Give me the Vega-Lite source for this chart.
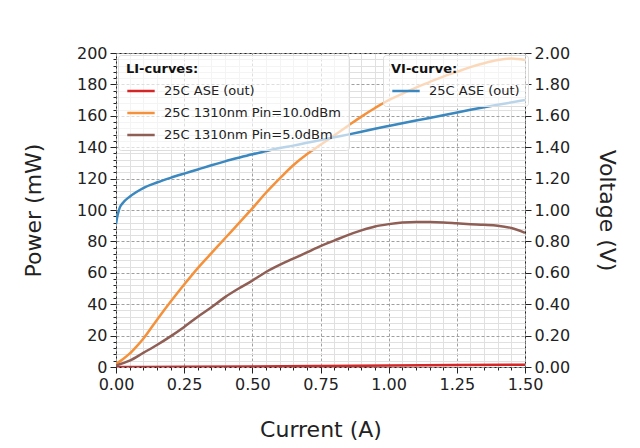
{
  "$schema": "https://vega.github.io/schema/vega-lite/v6.json",
  "description": "LI and VI curves of an amplifier: output power and voltage versus current.",
  "width": 409,
  "height": 314,
  "autosize": "none",
  "padding": {"left": 116, "top": 53, "right": 115, "bottom": 81},
  "background": "white",
  "config": {
    "font": "DejaVu Sans",
    "view": {"stroke": "#222", "strokeWidth": 1},
    "axis": {"labelFont": "DejaVu Sans", "titleFont": "DejaVu Sans", "labelColor": "#222", "titleColor": "#222", "tickColor": "#222", "titleFontWeight": "normal"},
    "legend": {"labelFont": "DejaVu Sans", "titleFont": "DejaVu Sans"}
  },
  "datasets": {
    "li": [
      {"I": 0, "P": 0, "s": "25C ASE (out)"},
      {"I": 0.1, "P": 0.05, "s": "25C ASE (out)"},
      {"I": 0.25, "P": 0.15, "s": "25C ASE (out)"},
      {"I": 0.5, "P": 0.35, "s": "25C ASE (out)"},
      {"I": 0.75, "P": 0.6, "s": "25C ASE (out)"},
      {"I": 1.0, "P": 0.9, "s": "25C ASE (out)"},
      {"I": 1.25, "P": 1.2, "s": "25C ASE (out)"},
      {"I": 1.5, "P": 1.5, "s": "25C ASE (out)"},
      {"I": 0, "P": 2, "s": "25C 1310nm Pin=10.0dBm"},
      {"I": 0.025, "P": 5, "s": "25C 1310nm Pin=10.0dBm"},
      {"I": 0.05, "P": 8.5, "s": "25C 1310nm Pin=10.0dBm"},
      {"I": 0.075, "P": 13, "s": "25C 1310nm Pin=10.0dBm"},
      {"I": 0.1, "P": 18, "s": "25C 1310nm Pin=10.0dBm"},
      {"I": 0.15, "P": 30, "s": "25C 1310nm Pin=10.0dBm"},
      {"I": 0.2, "P": 41.5, "s": "25C 1310nm Pin=10.0dBm"},
      {"I": 0.25, "P": 52.5, "s": "25C 1310nm Pin=10.0dBm"},
      {"I": 0.3, "P": 63, "s": "25C 1310nm Pin=10.0dBm"},
      {"I": 0.35, "P": 72.5, "s": "25C 1310nm Pin=10.0dBm"},
      {"I": 0.4, "P": 82, "s": "25C 1310nm Pin=10.0dBm"},
      {"I": 0.45, "P": 91.5, "s": "25C 1310nm Pin=10.0dBm"},
      {"I": 0.5, "P": 101, "s": "25C 1310nm Pin=10.0dBm"},
      {"I": 0.55, "P": 111, "s": "25C 1310nm Pin=10.0dBm"},
      {"I": 0.6, "P": 120, "s": "25C 1310nm Pin=10.0dBm"},
      {"I": 0.65, "P": 128.5, "s": "25C 1310nm Pin=10.0dBm"},
      {"I": 0.7, "P": 135.5, "s": "25C 1310nm Pin=10.0dBm"},
      {"I": 0.75, "P": 141.5, "s": "25C 1310nm Pin=10.0dBm"},
      {"I": 0.8, "P": 147.5, "s": "25C 1310nm Pin=10.0dBm"},
      {"I": 0.85, "P": 153.5, "s": "25C 1310nm Pin=10.0dBm"},
      {"I": 0.9, "P": 159.5, "s": "25C 1310nm Pin=10.0dBm"},
      {"I": 0.95, "P": 165, "s": "25C 1310nm Pin=10.0dBm"},
      {"I": 1.0, "P": 170, "s": "25C 1310nm Pin=10.0dBm"},
      {"I": 1.05, "P": 174, "s": "25C 1310nm Pin=10.0dBm"},
      {"I": 1.1, "P": 178, "s": "25C 1310nm Pin=10.0dBm"},
      {"I": 1.15, "P": 181.5, "s": "25C 1310nm Pin=10.0dBm"},
      {"I": 1.2, "P": 185, "s": "25C 1310nm Pin=10.0dBm"},
      {"I": 1.25, "P": 188, "s": "25C 1310nm Pin=10.0dBm"},
      {"I": 1.3, "P": 191, "s": "25C 1310nm Pin=10.0dBm"},
      {"I": 1.35, "P": 193.5, "s": "25C 1310nm Pin=10.0dBm"},
      {"I": 1.4, "P": 195.5, "s": "25C 1310nm Pin=10.0dBm"},
      {"I": 1.45, "P": 196.5, "s": "25C 1310nm Pin=10.0dBm"},
      {"I": 1.5, "P": 195.5, "s": "25C 1310nm Pin=10.0dBm"},
      {"I": 0, "P": 1, "s": "25C 1310nm Pin=5.0dBm"},
      {"I": 0.05, "P": 4, "s": "25C 1310nm Pin=5.0dBm"},
      {"I": 0.1, "P": 9, "s": "25C 1310nm Pin=5.0dBm"},
      {"I": 0.15, "P": 14, "s": "25C 1310nm Pin=5.0dBm"},
      {"I": 0.2, "P": 19.5, "s": "25C 1310nm Pin=5.0dBm"},
      {"I": 0.25, "P": 25.5, "s": "25C 1310nm Pin=5.0dBm"},
      {"I": 0.3, "P": 32, "s": "25C 1310nm Pin=5.0dBm"},
      {"I": 0.35, "P": 38, "s": "25C 1310nm Pin=5.0dBm"},
      {"I": 0.4, "P": 44.5, "s": "25C 1310nm Pin=5.0dBm"},
      {"I": 0.45, "P": 50, "s": "25C 1310nm Pin=5.0dBm"},
      {"I": 0.5, "P": 55, "s": "25C 1310nm Pin=5.0dBm"},
      {"I": 0.55, "P": 60.5, "s": "25C 1310nm Pin=5.0dBm"},
      {"I": 0.6, "P": 65, "s": "25C 1310nm Pin=5.0dBm"},
      {"I": 0.65, "P": 69, "s": "25C 1310nm Pin=5.0dBm"},
      {"I": 0.7, "P": 73, "s": "25C 1310nm Pin=5.0dBm"},
      {"I": 0.75, "P": 77, "s": "25C 1310nm Pin=5.0dBm"},
      {"I": 0.8, "P": 80.5, "s": "25C 1310nm Pin=5.0dBm"},
      {"I": 0.85, "P": 84, "s": "25C 1310nm Pin=5.0dBm"},
      {"I": 0.9, "P": 87, "s": "25C 1310nm Pin=5.0dBm"},
      {"I": 0.95, "P": 89.5, "s": "25C 1310nm Pin=5.0dBm"},
      {"I": 1.0, "P": 91, "s": "25C 1310nm Pin=5.0dBm"},
      {"I": 1.05, "P": 92, "s": "25C 1310nm Pin=5.0dBm"},
      {"I": 1.1, "P": 92.4, "s": "25C 1310nm Pin=5.0dBm"},
      {"I": 1.15, "P": 92.3, "s": "25C 1310nm Pin=5.0dBm"},
      {"I": 1.2, "P": 92, "s": "25C 1310nm Pin=5.0dBm"},
      {"I": 1.25, "P": 91.5, "s": "25C 1310nm Pin=5.0dBm"},
      {"I": 1.3, "P": 91, "s": "25C 1310nm Pin=5.0dBm"},
      {"I": 1.35, "P": 90.6, "s": "25C 1310nm Pin=5.0dBm"},
      {"I": 1.4, "P": 90, "s": "25C 1310nm Pin=5.0dBm"},
      {"I": 1.45, "P": 88.5, "s": "25C 1310nm Pin=5.0dBm"},
      {"I": 1.5, "P": 85.5, "s": "25C 1310nm Pin=5.0dBm"}
    ],
    "vi": [
      {"I": 0, "V": 0.91, "s": "25C ASE (out)"},
      {"I": 0.005, "V": 0.96, "s": "25C ASE (out)"},
      {"I": 0.01, "V": 0.995, "s": "25C ASE (out)"},
      {"I": 0.015, "V": 1.02, "s": "25C ASE (out)"},
      {"I": 0.025, "V": 1.045, "s": "25C ASE (out)"},
      {"I": 0.05, "V": 1.085, "s": "25C ASE (out)"},
      {"I": 0.075, "V": 1.115, "s": "25C ASE (out)"},
      {"I": 0.1, "V": 1.14, "s": "25C ASE (out)"},
      {"I": 0.15, "V": 1.175, "s": "25C ASE (out)"},
      {"I": 0.2, "V": 1.205, "s": "25C ASE (out)"},
      {"I": 0.25, "V": 1.232, "s": "25C ASE (out)"},
      {"I": 0.3, "V": 1.258, "s": "25C ASE (out)"},
      {"I": 0.35, "V": 1.285, "s": "25C ASE (out)"},
      {"I": 0.4, "V": 1.31, "s": "25C ASE (out)"},
      {"I": 0.45, "V": 1.333, "s": "25C ASE (out)"},
      {"I": 0.5, "V": 1.355, "s": "25C ASE (out)"},
      {"I": 0.55, "V": 1.375, "s": "25C ASE (out)"},
      {"I": 0.6, "V": 1.395, "s": "25C ASE (out)"},
      {"I": 0.65, "V": 1.41, "s": "25C ASE (out)"},
      {"I": 0.7, "V": 1.428, "s": "25C ASE (out)"},
      {"I": 0.75, "V": 1.445, "s": "25C ASE (out)"},
      {"I": 0.8, "V": 1.463, "s": "25C ASE (out)"},
      {"I": 0.85, "V": 1.48, "s": "25C ASE (out)"},
      {"I": 0.9, "V": 1.498, "s": "25C ASE (out)"},
      {"I": 0.95, "V": 1.517, "s": "25C ASE (out)"},
      {"I": 1.0, "V": 1.535, "s": "25C ASE (out)"},
      {"I": 1.1, "V": 1.57, "s": "25C ASE (out)"},
      {"I": 1.2, "V": 1.603, "s": "25C ASE (out)"},
      {"I": 1.3, "V": 1.638, "s": "25C ASE (out)"},
      {"I": 1.4, "V": 1.67, "s": "25C ASE (out)"},
      {"I": 1.5, "V": 1.7, "s": "25C ASE (out)"}
    ]
  },
  "encoding": {
    "x": {
      "field": "I", "type": "quantitative",
      "scale": {"domain": [0, 1.5], "nice": false, "zero": false},
      "axis": {
        "title": "Current (A)", "titleFontSize": 22, "titlePadding": 27,
        "values": [0, 0.05, 0.1, 0.15, 0.2, 0.25, 0.3, 0.35, 0.4, 0.45, 0.5, 0.55, 0.6, 0.65, 0.7, 0.75, 0.8, 0.85, 0.9, 0.95, 1.0, 1.05, 1.1, 1.15, 1.2, 1.25, 1.3, 1.35, 1.4, 1.45, 1.5],
        "format": ".2f",
        "labelExpr": "round(datum.value * 100) % 25 == 0 ? datum.label : ''",
        "labelFontSize": 16, "labelPadding": 3, "labelOverlap": false, "labelFlush": false,
        "domain": false,
        "tickSize": {"condition": {"test": "round(datum.value * 100) % 25 == 0", "value": 6}, "value": 3},
        "grid": true,
        "gridColor": {"condition": {"test": "round(datum.value * 100) % 25 == 0", "value": "#a0a0a0"}, "value": "#e0e0e0"},
        "gridDash": {"condition": {"test": "round(datum.value * 100) % 25 == 0", "value": [3, 2]}, "value": []},
        "gridWidth": 1
      }
    }
  },
  "layer": [
    {
      "data": {"name": "li"},
      "mark": {"type": "line", "strokeWidth": 2.5, "interpolate": "monotone", "clip": true},
      "encoding": {
        "y": {
          "field": "P", "type": "quantitative",
          "scale": {"domain": [0, 200], "nice": false},
          "axis": {
            "title": "Power (mW)", "titleFontSize": 22, "titlePadding": 31,
            "values": [0, 4, 8, 12, 16, 20, 24, 28, 32, 36, 40, 44, 48, 52, 56, 60, 64, 68, 72, 76, 80, 84, 88, 92, 96, 100, 104, 108, 112, 116, 120, 124, 128, 132, 136, 140, 144, 148, 152, 156, 160, 164, 168, 172, 176, 180, 184, 188, 192, 196, 200],
            "format": "d",
            "labelExpr": "datum.value % 20 == 0 ? datum.label : ''",
            "labelFontSize": 16, "labelPadding": 3, "labelOverlap": false, "labelFlush": false,
            "domain": false,
            "tickSize": {"condition": {"test": "datum.value % 20 == 0", "value": 6}, "value": 3},
            "grid": true,
            "gridColor": {"condition": {"test": "datum.value % 20 == 0", "value": "#a0a0a0"}, "value": "#e0e0e0"},
            "gridDash": {"condition": {"test": "datum.value % 20 == 0", "value": [3, 2]}, "value": []},
            "gridWidth": 1
          }
        },
        "color": {
          "field": "s", "type": "nominal",
          "scale": {"domain": ["25C ASE (out)", "25C 1310nm Pin=10.0dBm", "25C 1310nm Pin=5.0dBm"], "range": ["#d62728", "#f5913a", "#8f5e55"]},
          "legend": {
            "orient": "none", "legendX": 2, "legendY": 2,
            "title": "LI-curves:", "titleFontSize": 13, "titleFontWeight": "bold", "titleColor": "#111", "titlePadding": 0,
            "labelFontSize": 13, "labelColor": "#222", "labelOffset": 8, "labelLimit": 300,
            "symbolType": "stroke", "symbolStrokeWidth": 2.5, "symbolSize": 750,
            "rowPadding": -1, "padding": 8,
            "fillColor": "rgba(255,255,255,0.65)", "strokeColor": "#dddddd", "cornerRadius": 3
          }
        }
      }
    },
    {
      "data": {"name": "vi"},
      "mark": {"type": "line", "strokeWidth": 2.5, "interpolate": "monotone", "clip": true},
      "encoding": {
        "y": {
          "field": "V", "type": "quantitative",
          "scale": {"domain": [0, 2], "nice": false},
          "axis": {
            "orient": "right", "title": "Voltage (V)", "titleFontSize": 22, "titlePadding": 25,
            "values": [0, 0.2, 0.4, 0.6, 0.8, 1.0, 1.2, 1.4, 1.6, 1.8, 2.0],
            "format": ".2f", "labelFontSize": 16, "labelPadding": 3, "labelFlush": false,
            "domain": false, "tickSize": 6, "grid": false
          }
        },
        "color": {
          "field": "s", "type": "nominal",
          "scale": {"domain": ["25C ASE (out)"], "range": ["#3a88bf"]},
          "legend": {
            "orient": "none", "legendX": 267, "legendY": 2,
            "title": "VI-curve:", "titleFontSize": 13, "titleFontWeight": "bold", "titleColor": "#111", "titlePadding": 0,
            "labelFontSize": 13, "labelColor": "#222", "labelOffset": 8, "labelLimit": 300,
            "symbolType": "stroke", "symbolStrokeWidth": 2.5, "symbolSize": 750,
            "rowPadding": -1, "padding": 8,
            "fillColor": "rgba(255,255,255,0.65)", "strokeColor": "#dddddd", "cornerRadius": 3
          }
        }
      }
    }
  ],
  "resolve": {"scale": {"y": "independent", "color": "independent"}}
}
